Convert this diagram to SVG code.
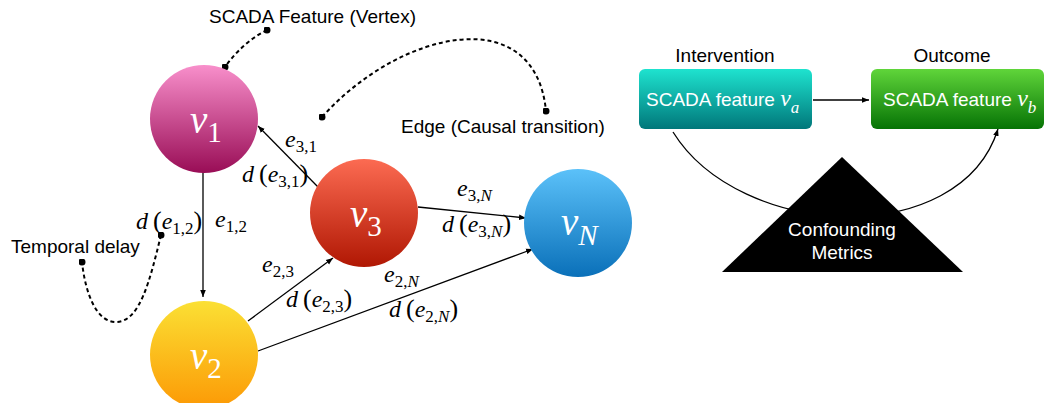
<svg xmlns="http://www.w3.org/2000/svg" width="1047" height="403" viewBox="0 0 1047 403">
<style>
.m{font-family:"Liberation Serif","Times New Roman",serif;font-style:italic;font-size:24px;fill:#000}
.p{font-style:normal;font-size:26px}
.sub{font-size:17px;font-style:normal}
.n{font-style:italic}
.vl{font-family:"Liberation Serif","Times New Roman",serif;font-style:italic;font-size:39px;fill:#fff}
.vs{font-size:29px}
.s{font-family:"Liberation Sans",Arial,Helvetica,sans-serif;font-size:19px;fill:#000}
.w{font-family:"Liberation Sans",Arial,Helvetica,sans-serif;font-size:19px;fill:#fff}
.e{fill:none;stroke:#000;stroke-width:1.3}
.d{fill:none;stroke:#000;stroke-width:2;stroke-dasharray:4 3}
</style>
<defs>
<linearGradient id="g1" x1="0" y1="0" x2="0" y2="1"><stop offset="0" stop-color="#f88fcb"/><stop offset="1" stop-color="#990d56"/></linearGradient>
<linearGradient id="g2" x1="0" y1="0" x2="0" y2="1"><stop offset="0" stop-color="#fbe034"/><stop offset="1" stop-color="#fc9905"/></linearGradient>
<linearGradient id="g3" x1="0" y1="0" x2="0" y2="1"><stop offset="0" stop-color="#fc6b52"/><stop offset="1" stop-color="#b01703"/></linearGradient>
<linearGradient id="gN" x1="0" y1="0" x2="0" y2="1"><stop offset="0" stop-color="#5bc1f9"/><stop offset="1" stop-color="#0a70b9"/></linearGradient>
<linearGradient id="gA" x1="0" y1="0" x2="0" y2="1"><stop offset="0" stop-color="#1ee3cf"/><stop offset="1" stop-color="#00777a"/></linearGradient>
<linearGradient id="gB" x1="0" y1="0" x2="0" y2="1"><stop offset="0" stop-color="#60d53a"/><stop offset="1" stop-color="#067305"/></linearGradient>
<marker id="ah" viewBox="0 0 10 10" refX="10" refY="5" markerWidth="7" markerHeight="7" markerUnits="userSpaceOnUse" orient="auto"><path d="M0,1 L10,5 L0,9 z" fill="#000"/></marker>
<marker id="dot" viewBox="0 0 10 10" refX="5" refY="5" markerWidth="7" markerHeight="7" markerUnits="userSpaceOnUse"><circle cx="5" cy="5" r="5" fill="#000"/></marker>
</defs>

<g id="connectors">
<path class="e" d="M318 187 L258 126" marker-end="url(#ah)"/>
<path class="e" d="M203 172 L203 297" marker-end="url(#ah)"/>
<path class="e" d="M248 321 L333 258" marker-end="url(#ah)"/>
<path class="e" d="M258 351 L533 249" marker-end="url(#ah)"/>
<path class="e" d="M418 207 L526 218" marker-end="url(#ah)"/>
<path class="e" d="M813 100 L869 100" marker-end="url(#ah)"/>
<path class="e" d="M673 132 C740 240 960 250 998 129" marker-end="url(#ah)"/>
</g>

<g id="annotations">
<path class="d" d="M267 30 Q243 42 225 67" marker-start="url(#dot)" marker-end="url(#dot)"/>
<path class="d" d="M322 117 C400 30 535 0 546 111" marker-start="url(#dot)" marker-end="url(#dot)"/>
<path class="d" d="M161 235 C150 280 140 322 116 322 C95 322 85 290 82 262" marker-start="url(#dot)" marker-end="url(#dot)"/>
<text class="s" x="209" y="23">SCADA Feature (Vertex)</text>
<text class="s" x="401" y="133">Edge (Causal transition)</text>
<text class="s" x="11" y="253">Temporal delay</text>
</g>

<g id="edge-labels">
<text class="m" x="285" y="147">e<tspan class="sub" dy="5">3,1</tspan></text>
<text class="m" x="242" y="182">d<tspan class="p" dx="5">(</tspan>e<tspan class="sub" dy="5">3,1</tspan><tspan class="p" dy="-5">)</tspan></text>
<text class="m" x="136" y="229">d<tspan class="p" dx="5">(</tspan>e<tspan class="sub" dy="5">1,2</tspan><tspan class="p" dy="-5">)</tspan></text>
<text class="m" x="215" y="227">e<tspan class="sub" dy="5">1,2</tspan></text>
<text class="m" x="262" y="272">e<tspan class="sub" dy="5">2,3</tspan></text>
<text class="m" x="286" y="307">d<tspan class="p" dx="5">(</tspan>e<tspan class="sub" dy="5">2,3</tspan><tspan class="p" dy="-5">)</tspan></text>
<text class="m" x="457" y="196">e<tspan class="sub" dy="5">3,<tspan class="n">N</tspan></tspan></text>
<text class="m" x="442" y="232">d<tspan class="p" dx="5">(</tspan>e<tspan class="sub" dy="5">3,<tspan class="n">N</tspan></tspan><tspan class="p" dy="-5">)</tspan></text>
<text class="m" x="384" y="282">e<tspan class="sub" dy="5">2,<tspan class="n">N</tspan></tspan></text>
<text class="m" x="389" y="317">d<tspan class="p" dx="5">(</tspan>e<tspan class="sub" dy="5">2,<tspan class="n">N</tspan></tspan><tspan class="p" dy="-5">)</tspan></text>
</g>

<g id="v1">
<circle cx="204" cy="119" r="54" fill="url(#g1)"/>
<text class="vl" x="190" y="133">v<tspan class="vs" font-style="normal" dy="9">1</tspan></text>
</g>
<g id="v2">
<circle cx="204" cy="355" r="54" fill="url(#g2)"/>
<text class="vl" x="190" y="369">v<tspan class="vs" font-style="normal" dy="9">2</tspan></text>
</g>
<g id="v3">
<circle cx="364" cy="213" r="54" fill="url(#g3)"/>
<text class="vl" x="350" y="227">v<tspan class="vs" font-style="normal" dy="9">3</tspan></text>
</g>
<g id="vN">
<circle cx="578" cy="223" r="54" fill="url(#gN)"/>
<text class="vl" x="561" y="235">v<tspan class="vs" dy="10">N</tspan></text>
</g>

<g id="intervention">
<text class="s" x="725" y="62" text-anchor="middle" font-size="19.5">Intervention</text>
<rect x="639" y="69" width="173" height="60" rx="6" fill="url(#gA)"/>
<text class="w" x="646" y="106">SCADA feature <tspan font-family="Liberation Serif, serif" font-style="italic" font-size="24">v</tspan><tspan font-family="Liberation Serif, serif" font-style="italic" font-size="17" dy="7">a</tspan></text>
</g>
<g id="outcome">
<text class="s" x="952" y="62" text-anchor="middle" font-size="19.5">Outcome</text>
<rect x="871" y="69" width="173" height="60" rx="6" fill="url(#gB)"/>
<text class="w" x="883" y="106">SCADA feature <tspan font-family="Liberation Serif, serif" font-style="italic" font-size="24">v</tspan><tspan font-family="Liberation Serif, serif" font-style="italic" font-size="17" dy="7">b</tspan></text>
</g>
<g id="confounding">
<polygon points="842,157 722,272 963,272" fill="#000"/>
<text class="w" x="842" y="236" text-anchor="middle" font-size="21.5">Confounding</text>
<text class="w" x="842" y="259" text-anchor="middle" font-size="21.5">Metrics</text>
</g>
</svg>
